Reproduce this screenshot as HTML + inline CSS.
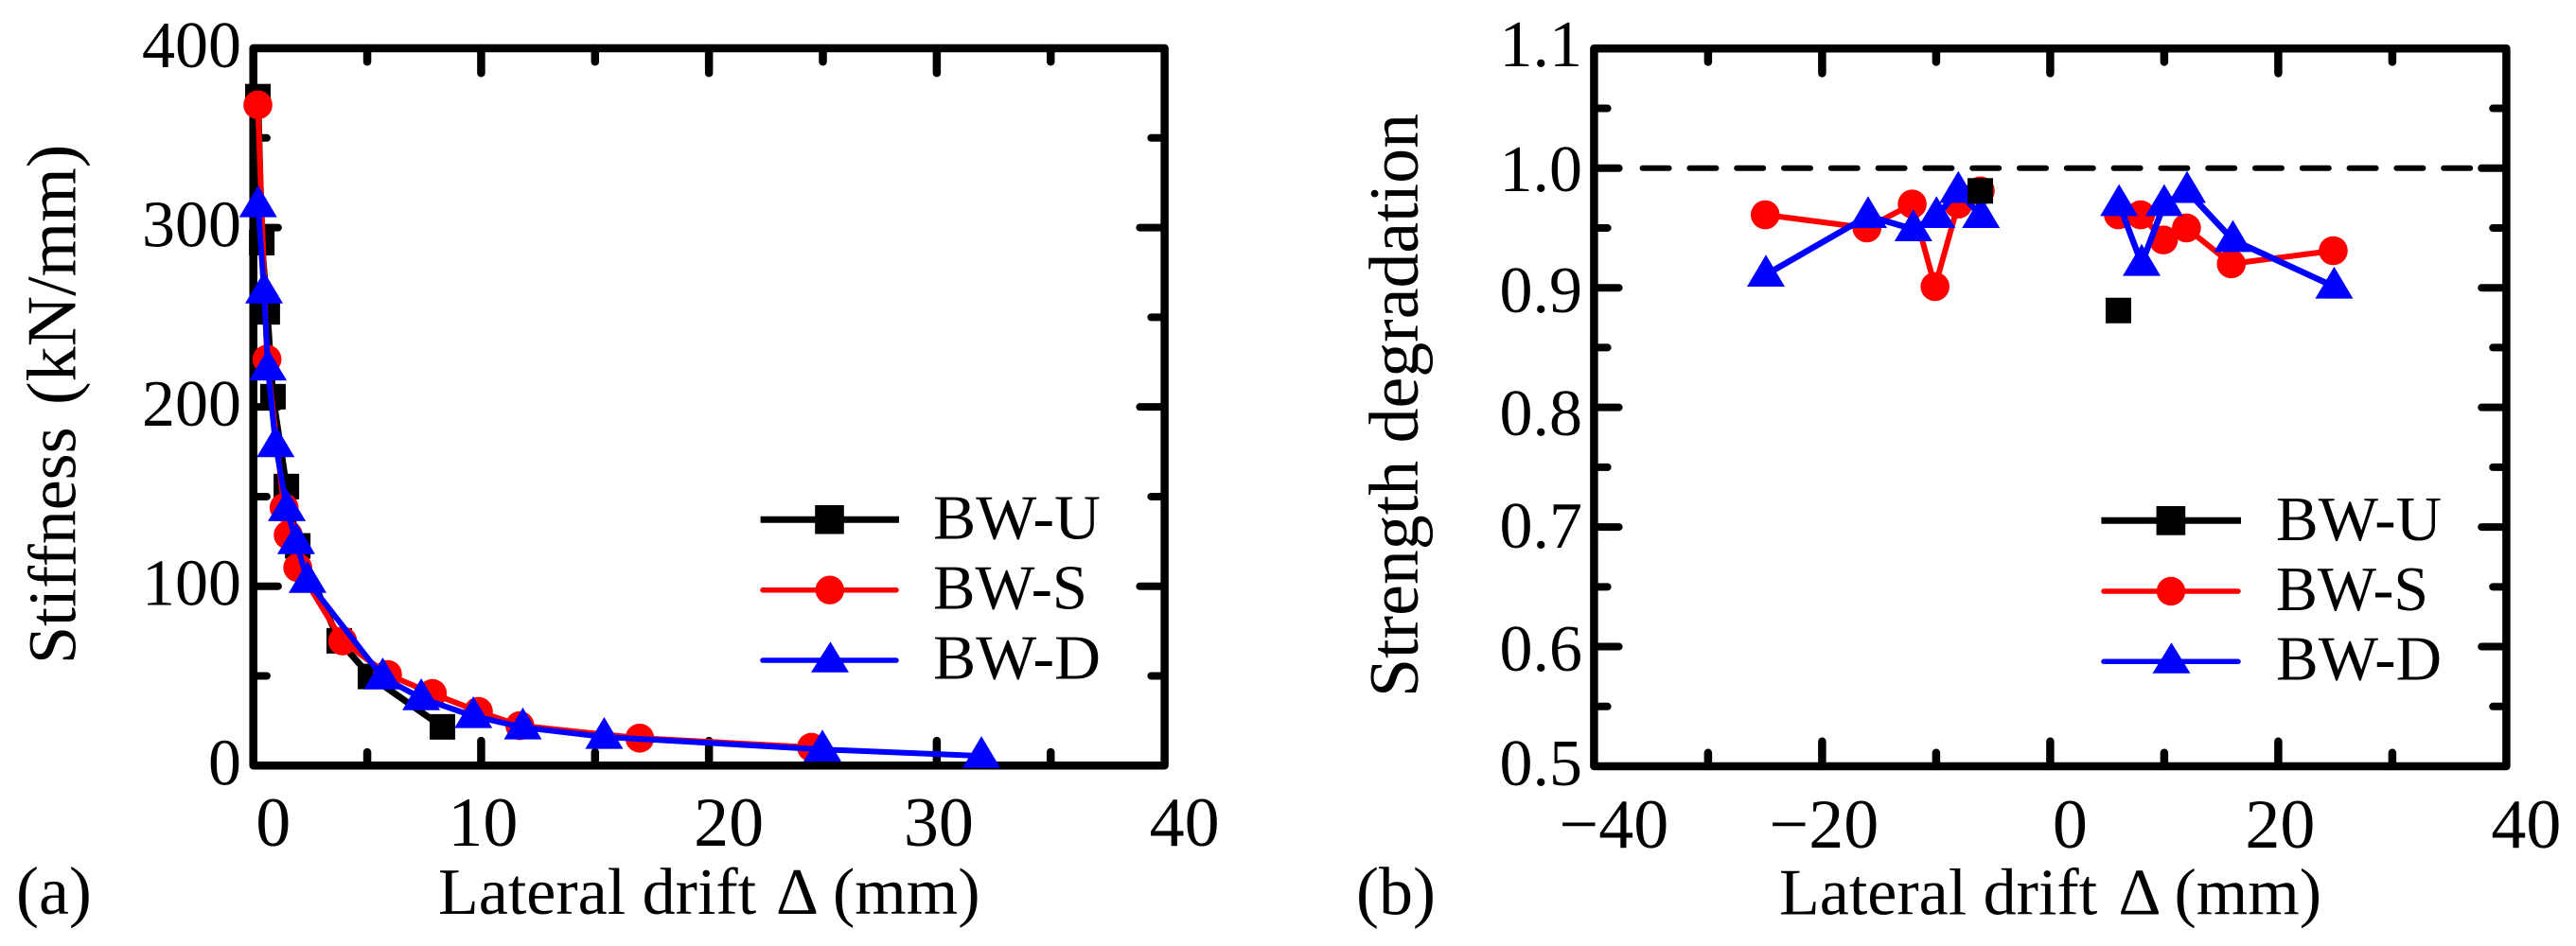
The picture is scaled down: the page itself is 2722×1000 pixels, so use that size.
<!DOCTYPE html>
<html lang="en">
<head>
<meta charset="utf-8">
<title>Stiffness and strength degradation charts</title>
<style>
html,body{margin:0;padding:0;background:#fff;}
svg{display:block;}
text{font-family:"Liberation Serif","Times New Roman",serif;fill:#000;}
</style>
</head>
<body>
<svg id="chart" xmlns="http://www.w3.org/2000/svg" width="2722" height="1000" viewBox="0 0 2722 1000">
  <rect x="0" y="0" width="2722" height="1000" fill="#fff"/>

  <g id="panel-a">
    <text x="17" y="966" font-size="72">(a)</text>
    <text y="966" font-size="70"><tspan x="463">Lateral drift</tspan> <tspan x="820">Δ</tspan> <tspan x="880">(mm)</tspan></text>
    <text transform="translate(79.5,702) rotate(-90)" font-size="72"><tspan x="0">Stiffness</tspan> <tspan x="274" font-size="74">(kN/mm)</tspan></text>
  </g>

  <g id="panel-b">
    <text x="1433" y="966.7" font-size="72">(b)</text>
    <text y="966.7" font-size="70"><tspan x="1880">Lateral drift</tspan> <tspan x="2238.5">Δ</tspan> <tspan x="2297.5">(mm)</tspan></text>
    <text transform="translate(1498,737) rotate(-90)" font-size="74" textLength="617" lengthAdjust="spacingAndGlyphs">Strength degradation</text>
  </g>

  <g id="legend-a">
    <g>
      <line x1="803.6" y1="549.3" x2="950" y2="549.3" stroke="#000" stroke-width="7"/>
      <rect x="861.2" y="534" width="30.6" height="30.5" fill="#000"/>
      <text x="986" y="569.3" font-size="67" textLength="177" lengthAdjust="spacingAndGlyphs">BW-U</text>
    </g>
    <g>
      <line x1="806" y1="623.7" x2="947" y2="623.7" stroke="#f00" stroke-width="5.5" stroke-linecap="round"/>
      <circle cx="876.8" cy="623.7" r="15.2" fill="#f00"/>
      <text x="986" y="643.3" font-size="67" textLength="163" lengthAdjust="spacingAndGlyphs">BW-S</text>
    </g>
    <g>
      <line x1="806" y1="698" x2="947" y2="698" stroke="#00f" stroke-width="5.5" stroke-linecap="round"/>
      <polygon points="877.5,678.3 857,710.7 897,710.7" fill="#00f"/>
      <text x="986" y="717.7" font-size="67" textLength="177" lengthAdjust="spacingAndGlyphs">BW-D</text>
    </g>
  </g>

  <g id="legend-b">
    <g>
      <line x1="2220.4" y1="550.3" x2="2368" y2="550.3" stroke="#000" stroke-width="7"/>
      <rect x="2278.6" y="535" width="30.6" height="30.7" fill="#000"/>
      <text x="2405" y="571" font-size="67" textLength="175" lengthAdjust="spacingAndGlyphs">BW-U</text>
    </g>
    <g>
      <line x1="2223" y1="625" x2="2365" y2="625" stroke="#f00" stroke-width="5.5" stroke-linecap="round"/>
      <circle cx="2294" cy="625" r="15.2" fill="#f00"/>
      <text x="2405" y="645" font-size="67" textLength="161" lengthAdjust="spacingAndGlyphs">BW-S</text>
    </g>
    <g>
      <line x1="2223" y1="699.3" x2="2365" y2="699.3" stroke="#00f" stroke-width="5.5" stroke-linecap="round"/>
      <polygon points="2294.5,679.3 2274.5,711.7 2314.5,711.7" fill="#00f"/>
      <text x="2405" y="718.7" font-size="67" textLength="175" lengthAdjust="spacingAndGlyphs">BW-D</text>
    </g>
  </g>
</svg>

<script>
// Panel (a): stiffness vs lateral drift
const aDriftU = [0.2, 0.37, 0.61, 0.86, 1.45, 1.95, 3.77, 5.14, 8.3];
const aStiffU = [373, 291.6, 253, 205.7, 155.6, 122.5, 69.6, 49.7, 21.6];
const aDriftS = [0.2, 0.6, 1.35, 1.53, 1.95, 3.92, 5.89, 7.86, 9.88, 11.7, 16.96, 24.5];
const aStiffS = [368.4, 226.6, 143.9, 128.6, 110.4, 69.5, 50.8, 40.2, 30.2, 22.3, 15.3, 10.2];
const aDriftD = [0.21, 0.47, 0.64, 0.98, 1.47, 1.88, 2.38, 5.68, 7.37, 9.66, 11.83, 15.4, 24.98, 31.96];
const aStiffD = [312.5, 264.4, 221.4, 178.7, 143, 124.6, 103, 49.2, 37.6, 27.6, 21.3, 16, 9, 5.4];
const aXTicks = [0, 5, 10, 15, 20, 25, 30, 35, 40];
const aXTickLabels = ['0', '', '10', '', '20', '', '30', '', '40'];
const aYTicks = [0, 50, 100, 150, 200, 250, 300, 350, 400];
const aYTickLabels = ['0', '', '100', '', '200', '', '300', '', '400'];

// Panel (b): strength degradation vs lateral drift (null breaks a line)
const bDriftU = [-6.13, 5.98];
const bRatioU = [0.981, 0.881];
const bDriftS = [-24.99, -16.07, -12.1, -10.1, -8.06, -6.13, null, 5.98, 7.93, 9.93, 11.95, 15.88, 24.82];
const bRatioS = [0.961, 0.95, 0.97, 0.901, 0.97, 0.981, null, 0.961, 0.961, 0.94, 0.95, 0.92, 0.931];
const bDriftD = [-24.93, -15.97, -12.0, -9.97, -8.06, -6.07, null, 6.04, 8.02, 10.0, 12.0, 16.02, 24.9];
const bRatioD = [0.911, 0.96, 0.949, 0.96, 0.981, 0.96, null, 0.97, 0.92, 0.97, 0.981, 0.94, 0.901];
const bXTicks = [-40, -30, -20, -10, 0, 10, 20, 30, 40];
const bXTickLabels = ['\u221240', '', '\u221220', '', '0', '', '20', '', '40'];
const bYTicks = [0.5, 0.55, 0.6, 0.65, 0.7, 0.75, 0.8, 0.85, 0.9, 0.95, 1.0, 1.05, 1.1];
const bYTickLabels = ['0.5', '', '0.6', '', '0.7', '', '0.8', '', '0.9', '', '1.0', '', '1.1'];
const bReferenceValue = [1.0];

// Layout only: vertical offset of the printed y labels relative to their ticks in (b)
const bYLabelShift = [20, 0, 25.5, 0, 22, 0, 29.4, 0, 25.9, 0, 24.3, 0, 18.7];

const NS = 'http://www.w3.org/2000/svg';
const svg = document.getElementById('chart');

function make(tag, attrs, parent) {
  const node = document.createElementNS(NS, tag);
  for (const key in attrs) node.setAttribute(key, attrs[key]);
  parent.appendChild(node);
  return node;
}

function linearScale(d0, d1, p0, p1) {
  return function (v) { return p0 + (v - d0) * (p1 - p0) / (d1 - d0); };
}

function drawFrame(parent, box, prefix) {
  const frame = make('rect', {
    x: box.left, y: box.top, width: box.right - box.left, height: box.bottom - box.top,
    fill: 'none', stroke: '#000', 'stroke-width': 8.5, 'stroke-linejoin': 'round'
  }, parent);
  
  
}

function drawTicks(parent, box, sx, sy, xTicks, xLabels, yTicks, yLabels, opts) {
  const inset = 4.2, majorLen = 26, minorLen = 14;
  xTicks.forEach(function (v, i) {
    const len = (xLabels[i] !== '' ? majorLen : minorLen);
    const px = sx(v);
    if (i > 0 && i < xTicks.length - 1) {
      const tb = make('line', {
        x1: px, y1: box.bottom, x2: px, y2: box.bottom - inset - len + 4,
        stroke: '#000', 'stroke-width': 8.5, 'stroke-linecap': 'round'
      }, parent);
      
      
      const tt = make('line', {
        x1: px, y1: box.top, x2: px, y2: box.top + inset + len - 4,
        stroke: '#000', 'stroke-width': 8.5, 'stroke-linecap': 'round'
      }, parent);
      
      
    }
    if (xLabels[i] !== '') {
      const isLeftShifted = (xLabels.slice(0, i + 1).filter(function (s) { return s !== ''; }).length % 2 === 1);
      const lab = make('text', {
        x: px + (isLeftShifted ? 21 : 2), y: opts.xLabelBaseline,
        'font-size': 74, 'text-anchor': 'middle'
      }, parent);
      lab.textContent = xLabels[i];
      
      
    }
  });
  yTicks.forEach(function (v, i) {
    const len = (yLabels[i] !== '' ? majorLen : minorLen);
    const py = sy(v);
    if (i > 0 && i < yTicks.length - 1) {
      const tl = make('line', {
        x1: box.left, y1: py, x2: box.left + inset + len - 4, y2: py,
        stroke: '#000', 'stroke-width': 8, 'stroke-linecap': 'round'
      }, parent);
      
      
      const tr = make('line', {
        x1: box.right, y1: py, x2: box.right - inset - len + 4, y2: py,
        stroke: '#000', 'stroke-width': 8, 'stroke-linecap': 'round'
      }, parent);
      
      
    }
    if (yLabels[i] !== '') {
      const lab = make('text', {
        x: opts.yLabelRight, y: py + opts.yLabelShift(i),
        'font-size': 70, 'text-anchor': 'end'
      }, parent);
      lab.textContent = yLabels[i];
      
      
    }
  });
}

function drawSeries(parent, xs, ys, sx, sy, style, name) {
  const group = make('g', {}, parent);
  
  
  if (style.line) {
    let run = [];
    const flush = function () {
      if (run.length > 1) {
        const pl = make('polyline', {
          points: run.join(' '), fill: 'none', stroke: style.color,
          'stroke-width': style.width, 'stroke-linejoin': 'round'
        }, group);
        
        
      }
      run = [];
    };
    xs.forEach(function (xv, i) {
      if (xv === null || ys[i] === null) { flush(); return; }
      run.push(sx(xv) + ',' + sy(ys[i]));
    });
    flush();
  }
  xs.forEach(function (xv, i) {
    if (xv === null || ys[i] === null) return;
    const cx = sx(xv), cy = sy(ys[i]);
    let m;
    if (style.marker === 'square') {
      m = make('rect', { x: cx - 13.5, y: cy - 13.5, width: 27, height: 27, fill: style.color }, group);
    } else if (style.marker === 'circle') {
      m = make('circle', { cx: cx, cy: cy, r: 15.3, fill: style.color }, group);
    } else {
      m = make('polygon', {
        points: cx + ',' + (cy - 21) + ' ' + (cx - 20) + ',' + (cy + 12.7) + ' ' + (cx + 20) + ',' + (cy + 12.7),
        fill: style.color
      }, group);
    }
    
    
  });
}

// ---- Panel (a) ----
(function () {
  const parent = document.getElementById('panel-a');
  const box = { left: 267.7, right: 1230.6, top: 51, bottom: 809.3 };
  const sx = linearScale(0, 40, box.left, box.right);
  const sy = linearScale(0, 400, box.bottom, box.top);
  drawFrame(parent, box, 'stiffness');
  drawTicks(parent, box, sx, sy, aXTicks, aXTickLabels, aYTicks, aYTickLabels, {
    prefix: 'stiffness', xLabelBaseline: 894, yLabelRight: 255,
    yLabelShift: function () { return 20; }
  });
  drawSeries(parent, aDriftU, aStiffU, sx, sy, { color: '#000', width: 7, marker: 'square', line: true }, 'series-bw-u-stiffness');
  drawSeries(parent, aDriftS, aStiffS, sx, sy, { color: '#f00', width: 6, marker: 'circle', line: true }, 'series-bw-s-stiffness');
  drawSeries(parent, aDriftD, aStiffD, sx, sy, { color: '#00f', width: 6, marker: 'triangle', line: true }, 'series-bw-d-stiffness');
})();

// ---- Panel (b) ----
(function () {
  const parent = document.getElementById('panel-b');
  const box = { left: 1684.4, right: 2648.4, top: 51.3, bottom: 810 };
  const sx = linearScale(-40, 40, box.left, box.right);
  const sy = linearScale(0.5, 1.1, box.bottom, box.top);
  drawFrame(parent, box, 'strength');
  drawTicks(parent, box, sx, sy, bXTicks, bXTickLabels, bYTicks, bYTickLabels, {
    prefix: 'strength', xLabelBaseline: 896, yLabelRight: 1672,
    yLabelShift: function (i) { return bYLabelShift[i]; }
  });
  const ref = make('line', {
    x1: 1735.6, x2: 2610.5, y1: sy(bReferenceValue[0]), y2: sy(bReferenceValue[0]),
    stroke: '#000', 'stroke-width': 6, 'stroke-linecap': 'round', 'stroke-dasharray': '28 21.8'
  }, parent);
  
  
  drawSeries(parent, bDriftS, bRatioS, sx, sy, { color: '#f00', width: 6, marker: 'circle', line: true }, 'series-bw-s-strength');
  drawSeries(parent, bDriftD, bRatioD, sx, sy, { color: '#00f', width: 6.5, marker: 'triangle', line: true }, 'series-bw-d-strength');
  drawSeries(parent, bDriftU, bRatioU, sx, sy, { color: '#000', width: 7, marker: 'square', line: false }, 'series-bw-u-strength');
})();
</script>
</body>
</html>
